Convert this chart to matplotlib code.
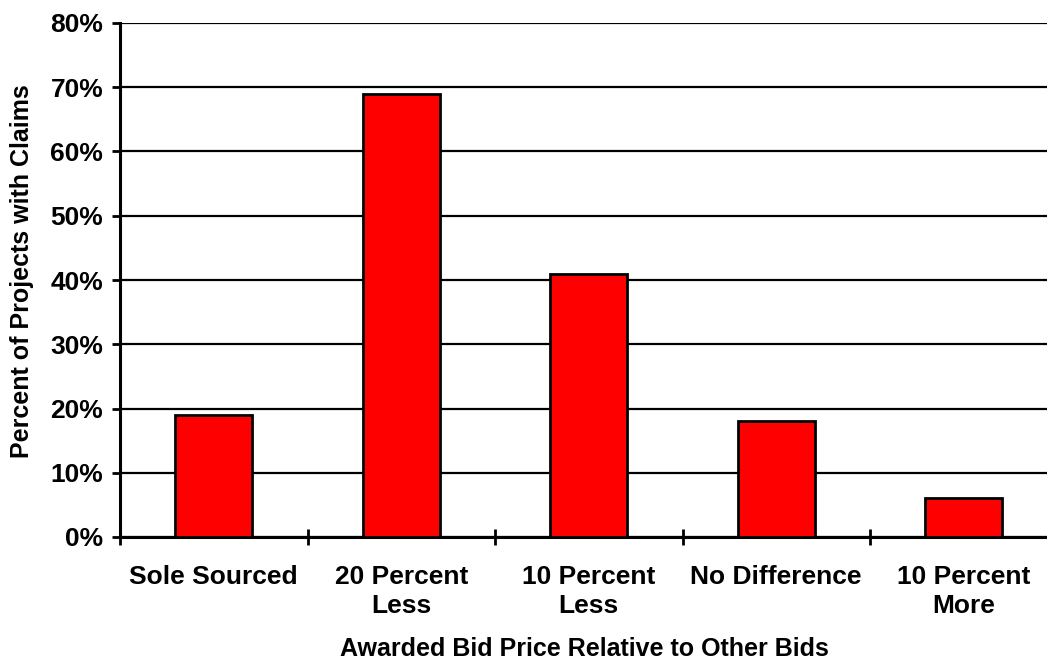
import matplotlib
matplotlib.use("Agg")
import matplotlib.pyplot as plt
import matplotlib.ticker as ticker

categories = ["Sole Sourced", "20 Percent\nLess", "10 Percent\nLess", "No Difference", "10 Percent\nMore"]
pct_claims = [19, 69, 41, 18, 6]
y_ticks = [0, 10, 20, 30, 40, 50, 60, 70, 80]

plt.rcParams.update({
    "font.family": ["Liberation Sans", "DejaVu Sans"],
    "font.weight": "bold",
    "axes.labelweight": "bold",
    "font.size": 19,
})

fig = plt.figure(figsize=(10.47, 6.6), dpi=100)
ax = fig.add_axes([120 / 1047, 123 / 660, 937.5 / 1047, 514 / 660])

x = range(len(categories))
ax.bar(x, pct_claims, width=0.41, color="#ff0000", edgecolor="black", linewidth=2, zorder=3)

ax.set_xlim(-0.5, len(categories) - 0.5)
ax.set_ylim(0, 80)
ax.set_yticks(y_ticks)
ax.yaxis.set_major_formatter(ticker.FuncFormatter(lambda v, _: f"{v:.0f}%"))
ax.grid(axis="y", color="black", linewidth=1.6, zorder=0)

# category boundaries carry the ticks, centers carry the labels
ax.set_xticks([i - 0.5 for i in range(len(categories) + 1)])
ax.set_xticklabels([])
ax.set_xticks(list(x), minor=True)
ax.set_xticklabels(categories, minor=True, linespacing=1.3)
ax.tick_params(axis="x", which="major", direction="inout", length=12, width=2)
ax.tick_params(axis="x", which="minor", length=0, pad=20)
ax.tick_params(axis="y", direction="out", length=6, width=2, pad=6)

for side in ("top", "right"):
    ax.spines[side].set_visible(False)
for side in ("left", "bottom"):
    ax.spines[side].set_linewidth(2.2)

ax.set_ylabel("Percent of Projects with Claims", fontsize=18, va="center")
ax.yaxis.set_label_coords(-0.105, 0.518)
ax.set_xlabel("Awarded Bid Price Relative to Other Bids", fontsize=18, va="center")
ax.xaxis.set_label_coords(0.495, -0.218)

fig.savefig("out.png", dpi=100)
